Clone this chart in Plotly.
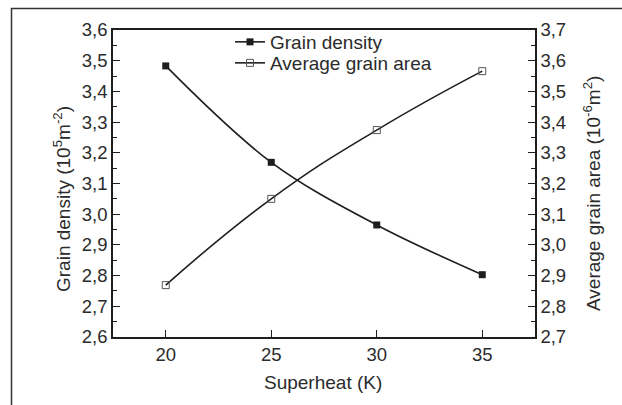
import plotly.graph_objects as go

superheat = [20, 25, 30, 35]
grain_density = [3.483, 3.169, 2.965, 2.803]
avg_grain_area = [2.869, 3.150, 3.374, 3.566]

x_ticks = [20, 25, 30, 35]
y1_ticks = [2.6, 2.7, 2.8, 2.9, 3.0, 3.1, 3.2, 3.3, 3.4, 3.5, 3.6]
y2_ticks = [2.7, 2.8, 2.9, 3.0, 3.1, 3.2, 3.3, 3.4, 3.5, 3.6, 3.7]

ink = "#1e1e1e"
txt = "#2b2b2b"
font = "Liberation Sans, Arial, sans-serif"
FS = 18.5

W, H = 622, 405
L, R, T, B = 113, 87, 30, 68
pw, ph = W - L - R, H - T - B

def px(xp):
    return (xp - L) / pw

def py(yp):
    return (H - B - yp) / ph

fig = go.Figure()
fig.add_trace(go.Scatter(
    x=superheat, y=grain_density, name="Grain density",
    mode="lines+markers", legend="legend",
    line=dict(color=ink, width=1.6, shape="spline", smoothing=1.0),
    marker=dict(symbol="square", size=7, color=ink),
))
fig.add_trace(go.Scatter(
    x=superheat, y=avg_grain_area, name="Average grain area",
    mode="lines+markers", yaxis="y2", legend="legend2",
    line=dict(color=ink, width=1.6, shape="spline", smoothing=1.3),
    marker=dict(symbol="square-open", size=7, color="#555555", line=dict(width=1)),
))

axis_common = dict(
    showgrid=False, zeroline=False, showline=True, linecolor=ink, linewidth=1.5,
    ticks="inside", tickcolor=ink, tickwidth=1.3, ticklen=7,
    tickfont=dict(family=font, size=FS, color=txt),
)

legend_common = dict(xanchor="left", yanchor="top", bgcolor="rgba(0,0,0,0)",
                     font=dict(family=font, size=19, color=txt), itemwidth=30)

fig.update_layout(
    width=W, height=H,
    margin=dict(l=L, r=R, t=T, b=B),
    paper_bgcolor="white", plot_bgcolor="white",
    separators=",.",
    font=dict(family=font, color=txt),
    showlegend=True,
    legend=dict(x=px(230), y=py(23), **legend_common),
    legend2=dict(x=px(230), y=py(44), **legend_common),
    xaxis=dict(
        range=[17.5, 37.5], tickvals=x_ticks, ticktext=[str(v) for v in x_ticks],
        mirror=True,
        **axis_common,
    ),
    yaxis=dict(
        range=[2.6, 3.6], tickvals=y1_ticks, tickformat=".1f",
        minor=dict(ticks="inside", dtick=0.05, tick0=2.6, ticklen=4, tickcolor=ink, tickwidth=1.2),
        **axis_common,
    ),
    yaxis2=dict(
        range=[2.7, 3.7], tickvals=y2_ticks, tickformat=".1f",
        overlaying="y", side="right",
        minor=dict(ticks="inside", dtick=0.05, tick0=2.7, ticklen=4, tickcolor=ink, tickwidth=1.2),
        **axis_common,
    ),
)

title_font = dict(family=font, size=19, color=txt)
fig.add_annotation(text="Superheat (K)", xref="paper", yref="paper",
                   x=px(323), y=py(382), showarrow=False, font=title_font,
                   xanchor="center", yanchor="middle")
fig.add_annotation(text="Grain density (10<sup>5</sup>m<sup>-2</sup>)", xref="paper", yref="paper",
                   x=px(62), y=py(199), showarrow=False, font=title_font, textangle=-90,
                   xanchor="center", yanchor="middle")
fig.add_annotation(text="Average grain area (10<sup>-6</sup>m<sup>2</sup>)", xref="paper", yref="paper",
                   x=px(592), y=py(194), showarrow=False, font=title_font, textangle=-90,
                   xanchor="center", yanchor="middle")

# outer frame of the figure
fig.add_shape(type="rect", xref="paper", yref="paper",
              x0=px(11.5), x1=px(700), y0=py(500), y1=py(8.5),
              line=dict(color="#333333", width=1.5), fillcolor="rgba(0,0,0,0)", layer="below")

fig.write_html("out.html", config={"displayModeBar": False},
               post_script="document.body.style.margin='0';")
